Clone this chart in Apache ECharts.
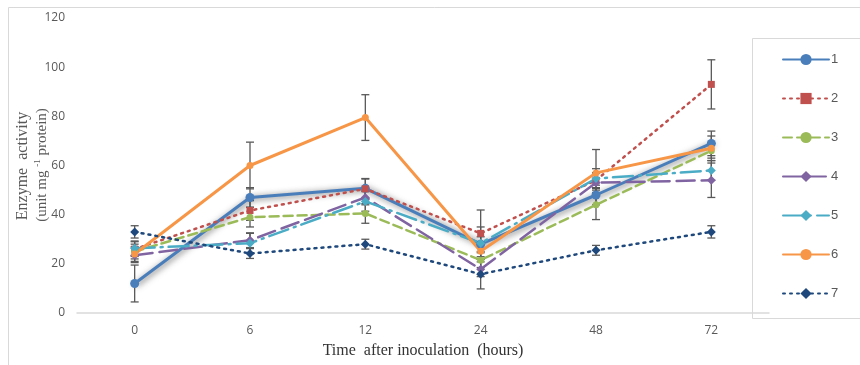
<!DOCTYPE html>
<html>
<head>
<meta charset="utf-8">
<script src="https://cdn.jsdelivr.net/npm/echarts@6/dist/echarts.min.js"></script>
<style>
  html, body { margin: 0; padding: 0; background: #fff; }
  #chart { width: 860px; height: 365px; }
</style>
</head>
<body>
<div id="chart"></div>
<script>
var hours = ['0', '6', '12', '24', '48', '72'];
var yTicks = [0, 20, 40, 60, 80, 100, 120];

var s1 = [12, 47, 50.7, 28, 48, 69];
var s2 = [26, 41.7, 50.5, 32.4, 54, 93];
var s3 = [25, 39, 40.5, 21.5, 44, 66];
var s4 = [23.5, 29.6, 47, 17.8, 53, 54];
var s5 = [26.3, 28.4, 45.4, 28.4, 54.7, 58];
var s6 = [24, 60, 79.5, 25.1, 57, 67];
var s7 = [33, 24.2, 28, 15.8, 25.5, 33];

var e1 = [7.5, 4, 4, 3, 4, 5];
var e2 = [3, 4, 4, 9.5, 3, 10];
var e3 = [3, 4, 4, 3, 6, 3];
var e4 = [3, 3, 3, 3, 4, 7];
var e5 = [3, 4, 4, 6.6, 4, 4];
var e6 = [3, 9.5, 9.3, 3, 9.5, 5];
var e7 = [2.5, 2, 2, 6, 2, 2.5];

var names = ['1', '2', '3', '4', '5', '6', '7'];
var colors = ['#4a7ebb', '#c0504d', '#9bbb59', '#8064a2', '#4bacc6', '#f79646', '#1f497d'];

var lineDefs = [
  {v: s1, e: e1, w: 3, type: 'solid', sym: 'circle', size: 9, shadow: true},
  {v: s2, e: e2, w: 2.5, type: [2, 5], sym: 'rect', size: 7},
  {v: s3, e: e3, w: 2.5, type: [9, 5], sym: 'circle', size: 7},
  {v: s4, e: e4, w: 2.5, type: [18, 7], sym: 'diamond', size: 9},
  {v: s5, e: e5, w: 2.5, type: [20, 6, 2, 6], sym: 'diamond', size: 9},
  {v: s6, e: e6, w: 3, type: 'solid', sym: 'circle', size: 7},
  {v: s7, e: e7, w: 2.5, type: [2, 5], sym: 'diamond', size: 9}
];

function errSeries(vals, errs) {
  return {
    type: 'custom',
    silent: true,
    z: 1,
    renderItem: function (params, api) {
      var lo = api.coord([api.value(0), api.value(1)]);
      var hi = api.coord([api.value(0), api.value(2)]);
      var c = 4;
      var st = {stroke: '#595959', lineWidth: 1.3};
      return {
        type: 'group',
        children: [
          {type: 'line', shape: {x1: lo[0], y1: lo[1], x2: hi[0], y2: hi[1]}, style: st},
          {type: 'line', shape: {x1: lo[0] - c, y1: lo[1], x2: lo[0] + c, y2: lo[1]}, style: st},
          {type: 'line', shape: {x1: hi[0] - c, y1: hi[1], x2: hi[0] + c, y2: hi[1]}, style: st}
        ]
      };
    },
    encode: {x: 0, y: [1, 2]},
    data: vals.map(function (v, i) { return [i, v - errs[i], v + errs[i]]; })
  };
}

var series = [];
lineDefs.forEach(function (d, i) {
  series.push(errSeries(d.v, d.e));
});
lineDefs.forEach(function (d, i) {
  var ls = {color: colors[i], width: d.w, type: d.type, cap: 'round'};
  if (d.shadow) {
    ls.shadowColor = 'rgba(40,40,40,0.7)';
    ls.shadowBlur = 6;
    ls.shadowOffsetX = 2;
    ls.shadowOffsetY = 1;
  }
  series.push({
    name: names[i],
    type: 'line',
    z: 3,
    data: d.v,
    symbol: d.sym,
    symbolSize: d.size,
    showAllSymbol: true,
    lineStyle: ls,
    itemStyle: {color: colors[i]}
  });
});

var chart = echarts.init(document.getElementById('chart'));
chart.setOption({
  animation: false,
  backgroundColor: '#fff',
  grid: {left: 77, right: 91, top: 18, bottom: 52},
  legend: {
    data: names,
    orient: 'vertical',
    left: 777,
    top: 48,
    itemWidth: 46,
    itemHeight: 14,
    itemGap: 26,
    textStyle: {color: '#595959', fontSize: 13, fontFamily: 'Liberation Sans', padding: [0, 0, 0, -3]}
  },
  xAxis: {
    type: 'category',
    data: hours,
    axisLine: {lineStyle: {color: '#d9d9d9', width: 1.5}},
    axisTick: {show: false},
    axisLabel: {color: '#595959', fontSize: 12, fontFamily: 'Open Sans', margin: 12},
    name: 'Time  after inoculation  (hours)',
    nameLocation: 'middle',
    nameGap: 30,
    nameTextStyle: {fontFamily: 'Liberation Serif', fontSize: 16, color: '#333'}
  },
  yAxis: {
    type: 'value',
    min: yTicks[0],
    max: yTicks[yTicks.length - 1],
    interval: 20,
    axisLine: {show: false},
    axisTick: {show: false},
    splitLine: {show: false},
    axisLabel: {color: '#595959', fontSize: 12, fontFamily: 'Open Sans', margin: 12}
  },
  graphic: [
    {type: 'rect', shape: {x: 8.5, y: 7.5, width: 900, height: 400}, style: {fill: 'none', stroke: '#d9d9d9', lineWidth: 1}, silent: true},
    {type: 'rect', shape: {x: 752.5, y: 38.5, width: 200, height: 280}, style: {fill: 'none', stroke: '#d9d9d9', lineWidth: 1}, silent: true},
    {type: 'text', x: 23, y: 166, rotation: Math.PI / 2,
      style: {text: 'Enzyme  activity', font: '16px "Liberation Serif"', fill: '#595959', align: 'center', verticalAlign: 'middle'}},
    {type: 'text', x: 42, y: 165, rotation: Math.PI / 2,
      style: {text: '{a|(unit mg }{s|-1}{a| protein)}', align: 'center', verticalAlign: 'middle',
        rich: {
          a: {fontFamily: 'Liberation Serif', fontSize: 15, fill: '#595959', lineHeight: 18},
          s: {fontFamily: 'Liberation Serif', fontSize: 9, fill: '#595959', lineHeight: 18, verticalAlign: 'top'}
        }}}
  ],
  series: series
});
</script>
</body>
</html>
